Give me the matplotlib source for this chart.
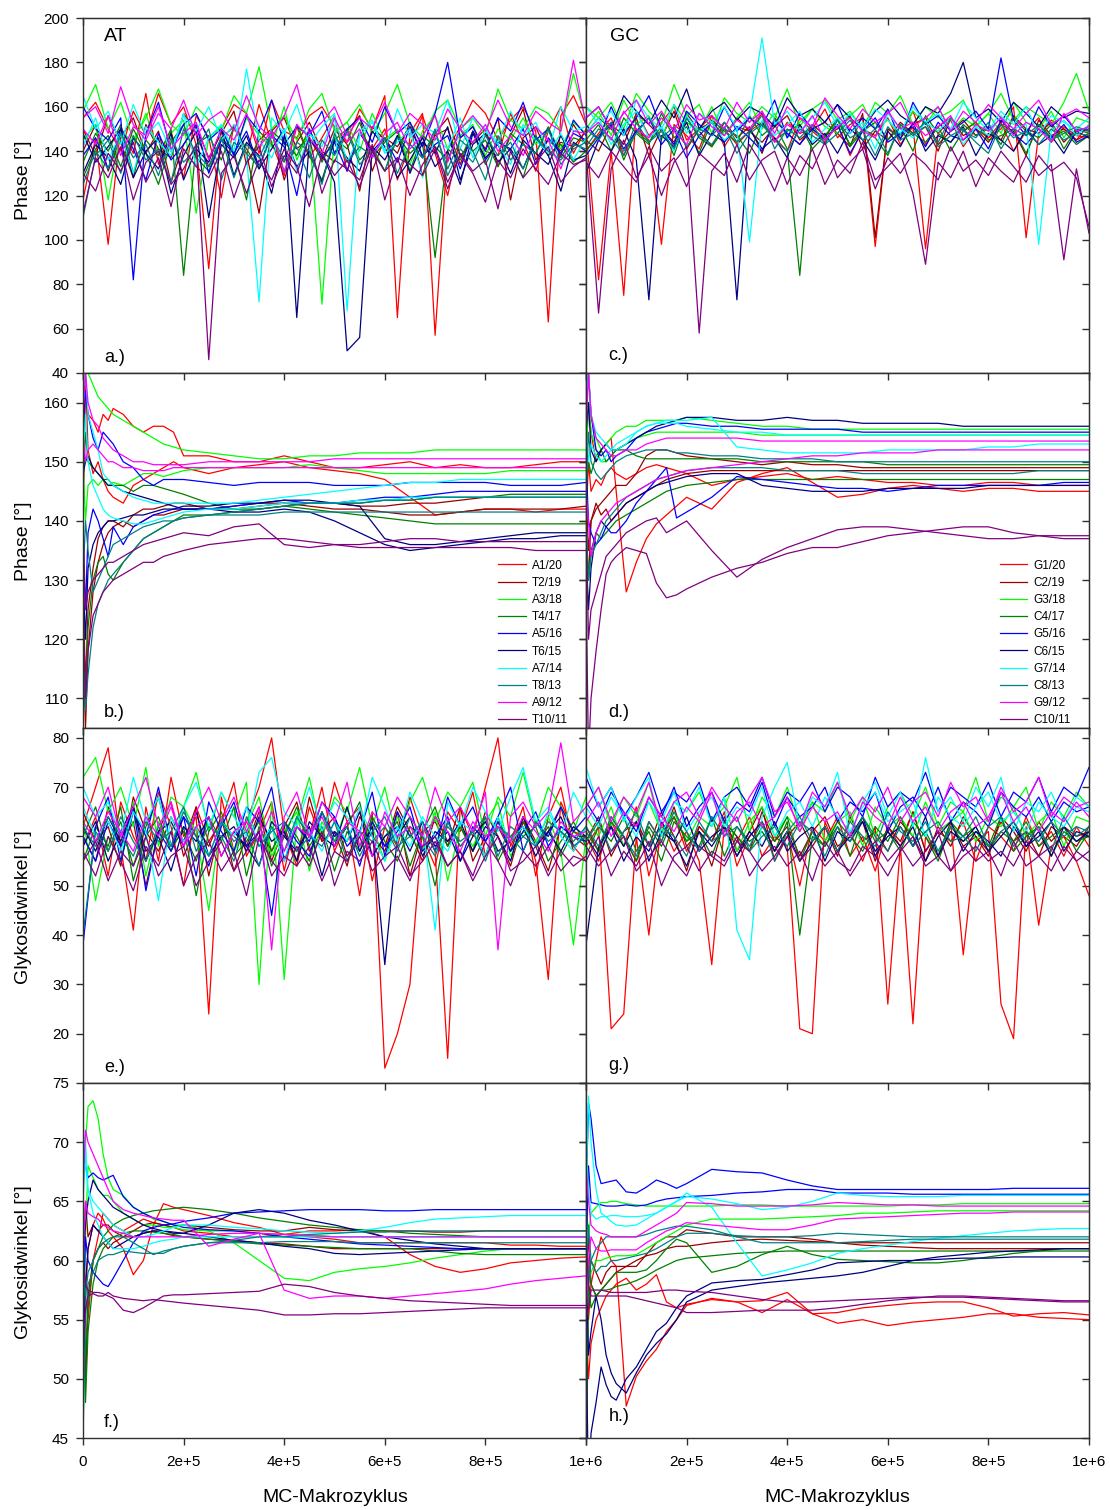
import numpy as np
import matplotlib
matplotlib.use('Agg')
import matplotlib.pyplot as plt

plt.rcParams['font.family'] = ['Liberation Sans', 'DejaVu Sans']

# MC macro cycles: raw samples and running-average samples
x_raw = np.arange(0, 1000001, 25000)
x_avg = [0, 5e3, 1e4, 2e4, 3e4, 4e4, 5e4, 6e4, 8e4, 1e5, 1.2e5, 1.4e5, 1.6e5, 1.8e5, 2e5,
         2.5e5, 3e5, 3.5e5, 4e5, 4.5e5, 5e5, 5.5e5, 6e5, 6.5e5, 7e5, 7.5e5, 8e5, 8.5e5,
         9e5, 9.5e5, 1e6]

colors = ['#ff0000', '#990000', '#00ff00', '#008000', '#0000ff',
          '#000080', '#00ffff', '#008080', '#ff00ff', '#800080']
labels_at = ['A1/20', 'T2/19', 'A3/18', 'T4/17', 'A5/16', 'T6/15', 'A7/14', 'T8/13', 'A9/12', 'T10/11']
labels_gc = ['G1/20', 'C2/19', 'G3/18', 'C4/17', 'G5/16', 'C6/15', 'G7/14', 'C8/13', 'G9/12', 'C10/11']

# a.) phase AT, raw (two strands per base pair, in legend order)
phase_at_raw = [
    [155,162,150,140,158,147,166,152,160,143,87,150,161,157,139,163,149,146,156,160,151,144,159,150,165,65,148,157,57,141,151,163,157,145,154,160,149,63,156,165,152],
    [118,146,98,151,139,166,134,149,128,156,146,119,152,138,161,144,129,151,137,146,156,131,149,141,150,127,143,156,139,120,146,151,140,138,157,144,131,149,160,139,150],
    [150,138,156,144,128,152,141,137,157,148,133,146,151,139,112,149,155,141,146,136,150,143,122,151,145,139,153,137,147,150,134,149,141,155,118,146,151,138,144,142,149],
    [140,152,131,146,155,139,149,126,143,151,137,148,158,134,145,150,127,144,153,140,135,149,156,131,146,142,151,129,148,155,138,144,150,133,147,159,136,145,140,152,143],
    [158,170,150,162,145,155,168,152,147,160,154,149,165,157,178,150,156,145,159,166,149,153,161,148,157,170,152,146,158,163,150,155,147,168,154,150,160,157,149,175,153],
    [145,152,118,150,143,157,139,148,154,112,146,151,138,155,147,142,160,136,149,71,148,153,140,157,145,150,134,149,156,141,147,152,138,150,145,155,143,149,141,153,148],
    [135,148,140,152,130,145,138,150,84,143,147,136,151,141,132,149,144,138,150,135,146,141,153,137,144,149,131,147,142,136,150,140,145,133,148,143,139,151,137,146,144],
    [128,141,147,133,150,139,125,144,152,137,131,146,140,118,149,143,135,152,138,127,145,150,136,142,131,147,139,144,92,141,136,149,134,145,140,128,147,138,143,135,140],
    [160,150,145,155,82,148,162,140,152,157,145,150,138,156,149,163,143,151,147,158,139,150,155,144,160,148,153,142,157,180,146,151,140,155,149,162,145,150,138,154,147],
    [138,146,132,150,141,127,148,136,143,152,130,145,139,149,133,147,142,120,150,137,144,131,148,140,146,135,151,138,143,147,132,149,136,144,141,150,134,146,139,148,145],
    [148,135,142,150,128,140,146,121,138,149,110,143,137,147,132,141,150,65,145,139,126,50,56,142,136,147,130,144,139,151,127,143,148,135,141,132,146,138,122,144,140],
    [130,143,137,125,146,139,132,148,127,141,135,150,129,144,138,121,147,133,140,126,145,137,131,149,142,128,136,146,133,140,125,148,137,143,130,145,139,134,147,136,138],
    [165,150,158,143,161,147,153,140,156,149,160,145,152,138,72,155,148,161,143,151,157,68,149,154,140,159,146,152,148,163,141,155,150,144,158,147,153,140,160,149,151],
    [142,155,136,148,130,151,144,138,157,133,146,152,140,177,145,137,150,131,148,142,156,135,147,153,139,144,150,128,146,141,155,137,149,143,134,152,145,139,148,136,146],
    [110,138,145,130,147,136,141,126,150,139,133,146,128,143,137,149,131,144,140,125,148,135,142,138,146,130,143,137,149,132,145,140,127,147,136,143,139,150,134,141,144],
    [125,140,132,148,137,143,129,146,135,141,150,127,144,139,133,147,136,142,128,145,138,149,134,140,131,146,143,137,150,129,141,135,147,138,144,132,146,140,136,143,141],
    [155,160,148,169,152,145,157,150,163,147,154,158,149,165,151,146,156,170,148,153,160,147,155,150,162,148,157,152,145,159,150,156,149,163,151,147,158,153,149,181,152],
    [150,143,156,138,151,147,160,141,148,153,136,150,145,157,142,149,130,152,146,139,155,144,150,137,148,153,141,147,156,135,150,144,152,140,147,138,151,145,132,149,148],
    [112,137,128,142,118,135,140,125,132,143,46,130,138,121,136,127,141,133,115,139,129,136,124,140,131,137,120,134,142,126,138,130,117,136,128,141,132,125,139,134,136],
    [130,122,139,131,144,126,137,115,141,133,128,140,119,135,142,124,138,130,146,121,136,132,127,143,118,137,134,129,141,123,139,131,136,114,140,128,135,142,126,133,137],
]

# c.) phase GC, raw
phase_gc_raw = [
    [150,82,140,75,158,147,153,160,145,150,156,142,151,149,157,144,153,148,150,159,146,152,155,97,150,147,158,143,151,155,149,153,146,150,160,101,148,154,150,145,152],
    [140,148,155,138,150,145,98,152,147,141,156,150,143,149,153,146,140,155,149,144,152,138,150,147,155,143,151,96,148,154,142,150,146,153,140,149,155,144,151,147,146],
    [148,155,150,143,157,152,146,158,141,150,153,147,155,149,144,151,156,145,150,153,148,142,157,101,150,146,152,155,143,149,154,147,151,145,156,150,148,153,144,150,149],
    [145,140,152,147,155,138,150,144,157,149,142,153,146,151,139,155,148,143,152,147,150,156,141,149,145,153,148,151,140,155,147,150,144,152,149,138,154,147,150,145,148],
    [160,155,162,150,166,158,152,170,156,161,148,164,157,153,160,155,168,151,159,163,154,158,150,162,157,165,152,160,155,158,163,151,157,166,154,160,156,152,162,175,158],
    [150,158,147,163,152,156,145,161,153,149,160,147,155,162,150,157,146,153,159,151,148,156,161,150,154,147,158,152,160,149,155,151,157,148,162,153,150,158,146,155,153],
    [145,152,140,155,148,143,157,146,151,139,154,149,144,156,147,152,141,84,150,146,155,142,149,153,145,151,140,156,148,144,152,147,150,143,155,149,146,152,141,150,148],
    [140,147,153,136,149,144,151,138,155,146,142,150,147,139,153,145,149,152,141,147,154,143,150,146,138,152,148,144,151,140,149,153,145,147,150,139,152,146,149,143,147],
    [152,145,160,148,155,165,150,143,158,152,147,160,149,155,151,163,146,157,150,153,161,148,155,150,159,145,162,152,156,149,153,158,150,182,154,147,160,151,156,149,150],
    [138,146,152,141,149,155,143,150,137,147,153,144,151,146,140,154,148,143,150,145,152,139,149,155,144,148,151,142,153,147,145,150,141,154,148,143,150,146,152,144,147],
    [155,160,150,165,158,152,163,155,168,150,158,162,154,160,157,151,164,156,159,153,161,155,150,158,163,156,152,160,157,166,180,155,159,153,162,157,151,160,155,158,157],
    [130,145,140,150,136,73,147,142,153,138,148,144,73,150,141,146,137,152,143,148,139,150,145,136,149,142,153,140,147,144,151,138,148,145,140,150,143,147,139,149,146],
    [160,152,158,147,163,155,150,161,148,157,153,160,150,156,191,152,158,149,155,162,151,157,150,159,154,148,160,153,157,150,162,155,149,158,152,160,147,156,153,150,155],
    [148,155,143,152,158,146,151,140,156,149,153,145,150,99,154,147,152,158,144,150,155,148,153,141,157,150,146,153,149,155,143,151,147,156,150,152,98,149,154,147,152],
    [150,145,153,140,148,155,146,151,142,150,147,153,144,149,156,141,150,146,152,143,148,154,145,150,139,152,147,151,144,155,149,146,153,141,150,147,152,145,148,151,149],
    [142,150,146,138,153,144,149,141,155,147,143,151,139,148,152,145,140,150,147,143,154,146,149,138,151,145,148,153,142,147,150,144,139,152,146,149,143,150,145,148,147],
    [155,160,150,157,163,152,158,149,161,154,156,150,162,153,158,148,160,155,151,164,156,150,159,153,157,162,151,155,160,149,158,153,161,155,150,157,163,152,156,159,155],
    [148,153,145,158,150,146,155,149,143,157,151,147,154,150,158,144,152,148,156,145,151,155,149,146,158,150,153,147,151,156,145,152,149,155,147,153,150,144,157,149,151],
    [140,67,132,145,128,138,120,135,142,58,131,139,126,143,134,122,137,129,141,125,136,130,144,127,133,139,121,89,135,128,140,124,137,131,126,138,129,134,91,132,103],
    [135,128,140,133,126,142,131,137,124,139,134,129,143,127,136,140,125,138,132,144,128,135,141,123,137,130,139,134,127,142,131,136,129,140,133,126,138,131,135,128,106],
]

# e.) glycosidic angle AT, raw
glyco_at_raw = [
    [62,70,78,58,41,66,55,72,60,64,24,68,57,63,70,80,61,54,66,59,71,63,48,65,13,20,30,62,57,15,66,60,70,80,58,64,55,31,67,61,60],
    [58,64,52,67,60,55,69,62,50,66,59,63,71,56,61,67,53,64,60,70,57,63,66,51,62,58,68,60,54,65,61,69,56,63,59,66,52,64,70,58,55],
    [60,55,66,58,63,50,61,67,56,62,58,64,53,60,66,57,62,55,68,59,61,54,64,60,57,65,52,61,63,58,66,55,60,62,57,64,59,53,62,60,58],
    [65,59,62,54,68,61,57,64,59,66,52,63,60,58,65,55,62,67,57,61,64,56,60,63,58,66,61,55,64,59,62,57,65,60,54,63,58,61,66,57,62],
    [72,76,65,70,62,74,58,68,66,73,61,69,64,71,30,67,31,63,72,60,68,65,74,62,70,59,67,72,63,69,66,71,60,68,64,73,62,70,66,61,68],
    [64,47,60,55,67,52,63,58,66,61,45,64,57,62,68,56,61,65,53,63,59,66,58,62,55,64,60,57,65,51,62,58,63,67,56,61,59,64,57,38,60],
    [60,66,57,63,54,62,68,58,61,55,64,59,66,52,62,57,63,60,55,65,58,62,67,56,60,63,54,61,66,58,62,57,64,55,60,63,58,62,56,61,59],
    [55,62,58,66,51,60,64,57,62,48,61,65,56,59,63,54,60,66,58,62,53,61,57,64,59,55,62,60,50,63,58,61,56,64,57,60,62,55,59,63,58],
    [38,62,68,55,65,60,70,58,64,52,67,61,57,66,63,70,55,62,59,67,64,58,61,69,56,65,60,63,57,68,62,66,59,64,70,57,63,60,66,61,64],
    [60,55,63,58,66,49,61,57,64,60,54,62,67,58,61,44,63,59,56,65,60,62,54,63,58,61,66,57,60,64,55,62,59,63,57,61,65,58,62,60,59],
    [62,57,64,59,66,55,61,63,58,65,56,60,62,57,64,59,61,55,63,60,58,66,57,62,34,60,64,56,61,59,63,57,62,60,55,64,58,61,57,62,60],
    [58,63,55,61,66,57,60,53,62,59,64,56,61,58,54,63,60,57,62,52,61,59,65,56,60,62,57,63,58,61,55,60,63,57,59,62,56,61,64,58,60],
    [70,64,67,60,72,63,68,58,66,71,62,69,64,60,73,76,65,62,70,61,67,64,60,72,66,59,69,63,41,67,62,70,65,61,68,74,63,66,60,69,64],
    [66,60,63,57,65,61,47,64,59,62,56,63,60,66,58,62,55,64,61,57,63,59,66,60,55,62,58,64,60,57,63,61,56,64,59,62,58,65,60,57,62],
    [40,61,57,64,59,55,62,58,65,60,56,63,59,61,54,62,57,64,60,58,63,55,61,59,62,57,64,60,56,63,58,61,55,62,60,57,63,59,61,58,60],
    [62,58,64,60,56,63,59,61,66,57,62,60,55,64,58,61,63,57,60,65,59,62,56,61,64,58,60,63,57,62,59,61,64,56,62,60,58,63,61,59,62],
    [68,64,70,60,66,72,62,67,58,65,70,63,68,61,66,37,64,69,60,67,63,71,58,65,62,68,64,60,70,63,66,61,69,37,64,67,62,65,79,63,66],
    [63,59,65,61,57,64,60,66,58,62,64,56,61,63,59,65,57,62,60,64,58,63,61,56,65,60,62,58,64,61,57,63,60,62,59,64,61,57,63,60,61],
    [57,52,60,55,49,58,54,61,50,56,59,53,57,48,60,55,52,58,54,61,50,57,55,59,53,56,51,58,60,54,57,52,59,55,50,57,54,58,53,56,55],
    [55,59,51,57,54,60,52,56,58,50,55,59,53,57,61,52,56,54,58,51,57,55,60,53,56,58,52,55,59,54,57,51,56,60,53,55,58,52,57,54,56],
]

# g.) glycosidic angle GC, raw
glyco_gc_raw = [
    [58,62,21,24,60,40,63,57,61,55,34,62,59,64,56,60,58,21,20,63,57,61,55,62,26,58,22,60,56,63,36,59,61,26,19,62,42,58,60,55,48],
    [60,55,63,58,66,52,61,64,57,62,59,65,54,60,63,57,61,50,62,59,64,56,60,53,62,58,65,57,61,59,63,55,62,60,57,64,58,61,56,62,58],
    [62,57,64,60,55,63,59,66,58,61,54,63,60,57,65,59,62,56,61,64,58,60,63,55,62,59,65,57,61,63,58,60,56,64,61,57,63,59,62,60,61],
    [59,64,56,61,63,58,65,60,53,62,59,64,57,61,66,55,60,63,58,62,56,64,59,61,57,63,60,55,62,58,64,60,57,63,59,61,56,62,60,58,62],
    [66,70,62,68,64,71,60,67,65,69,63,66,72,61,68,64,70,62,67,65,71,63,68,60,66,69,64,70,62,67,65,72,63,68,66,70,61,67,64,69,66],
    [64,60,66,58,63,67,61,65,59,64,62,68,57,63,66,60,64,61,67,59,63,65,58,66,62,64,60,67,61,63,65,59,64,62,66,60,63,65,58,64,63],
    [56,62,59,64,57,61,55,63,60,58,64,56,62,59,61,57,63,40,60,58,62,56,64,59,61,57,63,60,55,62,59,61,58,64,57,60,62,56,61,59,60],
    [61,57,63,60,55,62,58,64,59,61,56,63,60,57,62,59,64,55,61,58,63,60,57,62,59,64,58,61,56,63,60,62,57,61,59,63,58,60,62,57,61],
    [72,66,70,64,68,73,65,69,67,71,63,68,70,66,72,64,69,67,71,65,70,68,64,72,66,69,67,73,65,70,68,66,71,64,69,67,72,65,70,68,74],
    [67,63,69,65,61,68,64,70,62,66,69,63,67,65,71,62,68,64,66,70,63,67,65,69,61,66,68,64,70,63,67,65,62,69,66,64,68,63,67,65,66],
    [38,58,62,55,60,57,63,59,54,61,58,62,56,60,63,57,61,55,59,62,57,60,64,56,61,58,62,55,60,63,57,61,59,56,62,58,60,63,57,61,60],
    [60,56,62,58,63,55,61,59,64,57,60,62,56,61,58,63,57,60,62,55,61,59,63,57,60,62,58,64,56,61,59,62,57,60,63,58,61,56,62,59,61],
    [74,66,70,63,68,72,60,67,65,70,62,68,41,35,64,70,75,62,68,66,73,60,67,71,64,69,62,76,65,68,63,70,66,72,61,67,65,69,63,68,66],
    [66,62,68,64,60,67,63,69,61,65,68,62,66,64,70,60,65,67,62,68,64,61,66,69,63,65,67,60,68,64,62,66,69,63,65,61,67,64,62,66,65],
    [62,58,64,60,56,63,59,65,61,57,64,60,62,58,63,55,61,64,59,62,57,63,60,58,65,61,59,63,57,62,60,64,58,61,63,59,62,57,64,60,62],
    [59,63,57,61,65,58,62,60,56,63,59,61,64,57,60,62,58,63,61,56,62,59,64,60,57,62,58,61,63,59,60,57,62,64,58,61,59,63,60,62,61],
    [66,70,63,68,65,71,62,67,69,64,70,66,63,68,72,65,67,62,69,66,71,64,68,65,70,63,67,69,64,71,66,68,63,70,65,67,72,64,68,66,67],
    [63,67,60,65,62,68,64,61,66,63,69,60,65,67,62,64,68,61,66,63,65,60,67,64,62,68,63,66,61,65,67,62,64,69,63,66,61,65,63,67,64],
    [55,60,52,57,54,59,50,56,58,53,57,55,60,52,56,58,54,57,51,59,55,53,58,56,52,57,60,54,56,53,58,55,57,52,59,54,56,58,53,57,55],
    [58,54,57,60,53,56,59,55,52,58,56,54,59,57,53,56,60,55,58,54,57,52,56,59,55,58,54,57,61,53,56,58,55,57,54,59,56,53,58,55,57],
]

# b.) phase AT, running average
phase_at_avg = [
    [150,162,158,157,155,158,157,159,158,156,155,156,156,155,151,151,150,150,151,150,149,149,149.5,150,149,149.5,149,149,149.5,150,150],
    [140,165,152,148,150,147,145,144,143,146,147,148,149,150,149,148,149,149.5,150,149,148.5,148,147,144,141,141.5,142,142,141.5,142,142],
    [120,105,118,128,133,136,138,139,140,139,140,141,141,141.5,142,142,142.5,143,143,142.5,142,142,141.5,141,141,141.5,142,142,142,142,142.5],
    [130,112,125,132,137,139,140,140,139,141,142,142,142.5,143,143,142,142,142.5,143,143,143,142.5,142.5,143,143,143.5,144,144,144,144,144],
    [160,175,165,163,161,160,159,158,157,156,155,154,153,152.5,152,151.5,151,150.5,150.5,151,151,151.5,151.5,151.5,152,152,152,152,152,152,152],
    [150,140,146,147,146,147,146,146.5,146,147,148,148,147.5,148,148.5,149,149,149,149,149.5,149,148.5,148,148,148,148,148,148.5,148.5,148.5,148.5],
    [125,110,122,130,133,134,131,130,133,135,137,138,139,140,141,141,141.5,142,142.5,143,143,143,143.5,143.5,144,144,144,144.5,144.5,144.5,144.5],
    [145,155,150,149,148,147,147,146,146,145,146,146,145.5,145,144.5,143,142,142,142.5,142,141.5,141,140.5,140,139.5,139.5,139.5,139.5,139.5,139.5,139.5],
    [155,162,158,154,152,155,154,153,150,149,147,146,147,147,147,146.5,146,146.5,146.5,146.5,146,146,146,146.5,146.5,146.5,146.5,146,146,146,146.5],
    [135,125,138,142,140,137,134,139,136,139,140,141,141.5,142,142,142,142.5,143,143.5,143,143,143.5,144,144,144.5,145,145,145,145,145,145],
    [148,150,151,149,148,147,146,146,145,144.5,144,143.5,143,142.5,142,142,141.5,141.5,142,141.5,140,138,136,135,135.5,136,136.5,137,137,137.5,137.5],
    [130,120,132,136,138,139,140,140,140.5,141,141,141.5,142,142,142.5,142.5,143,143,143.5,143.5,143,142.5,137,136,136,136.5,137,137.5,138,138,138],
    [160,165,158,155,152,148,147,146,145,144,143.5,143,143,143,143,143,143,143.5,144,144.5,145,145.5,146,146.5,146.5,147,147,147,147,147,147],
    [150,158,150,146,144,142,141,140.5,140,139.5,139.5,140,140.5,141,141.5,142,142,142.5,143,143,143,143.5,143.5,144,144,144,144,144,144,144,144],
    [120,108,114,122,126,128,130,131,133,135,137,138,139,140,140.5,141,141.5,142,142.5,143,143,143,143.5,143.5,144,144,144,144,144,144,144],
    [130,140,135,128,130,132,134,136,137,138,139,139.5,140,140,140.5,141,141,141,141.5,141.5,141.5,141.5,141.5,141.5,141.5,141.5,141.5,141.5,141.5,141.5,141.5],
    [158,165,160,157,156,154,153,152,151,150,150,149.5,149.5,149.5,149.5,150,150,150,150,150,150.5,150.5,150.5,150.5,150.5,150.5,150.5,150.5,150.5,150.5,150.5],
    [155,150,152,153,152,151,150,150,149,149,148.5,148.5,148.5,149,149,149,149,149,149,149,149,149,149,149,149,149,149,149,149,149,149],
    [125,110,118,124,126,128,129,130,131,132,133,133,134,134.5,135,136,136.5,137,137,136.5,136,135.5,135.5,135.5,135.5,135.5,135.5,135.5,135,135,135],
    [140,125,128,130,131,132,133,133,134,135,136,136.5,137,137.5,138,137.5,139,139.5,136,135.5,136,136,136.5,137,137,136.5,136.5,136.5,136.5,136.5,136.5],
]

# d.) phase GC, running average
phase_gc_avg = [
    [150,160,155,150,152,153,154,145,128,133,137,139.5,141,142.5,144,142,146.5,148,149,146.5,144,144.5,145.5,146,145.5,145,145.5,145.5,145,145,145],
    [140,150,145,147,146,148,149,148,147,148,149,149.5,149,148.5,148,146,147,147.5,148,147,147.5,147,146.5,146.5,146,146,146.5,146.5,146,146,146],
    [145,135,140,142,143,144,145,146,146,148,151,152,152,151.5,151,150.5,150,149.5,150,149.5,149.5,149,149,149,149,149,149,149,149,149,149],
    [138,130,140,143,141,142,140,141,143,144,145,146,147,147.5,148,148.5,148.5,148.5,148.5,148.5,148.5,148.5,148.5,148.5,148.5,148.5,148.5,148.5,148.5,148.5,148.5],
    [155,165,158,154,152,153,154,155,156,156,157,157,157,157,157.5,157,156.5,156,156,155.5,155.5,155.5,155.5,155.5,155.5,155.5,155.5,155.5,155.5,155.5,155.5],
    [150,160,155,152,150,150,151,152,153,154,154.5,155,155,155,155,155,155,154.5,154.5,154.5,154.5,154.5,154.5,154.5,154.5,154.5,154.5,154.5,154.5,154.5,154.5],
    [145,150,148,151,152,150,151,152,152,151,150.5,150.5,150.5,150.5,150.5,150.5,150.5,150,150,150,150,150,149.5,149.5,149.5,149.5,149.5,149.5,149.5,149.5,149.5],
    [140,130,135,138,137,138,139,140,141,142,143,144,145,145.5,146,146.5,147,147,147,147,147,147,147,147,147,147,147,147,147,147,147],
    [150,140,138,136,137,139,138,138,140,143,145,147,149,140.5,141.5,144,147.5,147,146.5,146,145.5,145.5,145,145.5,146,146,146,146,146,146.5,146.5],
    [160,165,158,152,151,152,150,151,152,154,155,155.5,156,156.5,156.5,156,156,155.5,155.5,155.5,155.5,155,155,155,155,155,155,155,155,155,155],
    [155,160,152,150,152,153,152,152,153,154,155,156,156.5,157,157.5,157.5,157,157,157.5,157,157,156.5,156.5,156.5,156.5,156,156,156,156,156,156],
    [135,125,132,138,140,139,140,141,143,144,145,146,146.5,147,147.5,148,148,146,145.5,145,145,145,145.5,145.5,145.5,145.5,146,146,146,146,146],
    [160,165,158,155,154,153,152,152,153,155,156,156.5,157,157,157,157.5,152.5,152,151.5,151.5,151.5,151.5,152,152,152,152,152.5,152.5,153,153,153],
    [155,150,153,151,150,151,152,153,154,155,156,156.5,156.5,156.5,156,155.5,155,155,154.5,154.5,154.5,154.5,154.5,154.5,154.5,154.5,154.5,154.5,154.5,154.5,154.5],
    [145,155,150,148,147,148,149,150,151,151.5,152,152,152,151.5,151.5,151,151,150.5,150.5,150.5,150,150,150,150,150,150,150,150,150,150,150],
    [140,130,134,136,138,140,141,142,144,145,146,147,147.5,148,148.5,149,149,149,148.5,148.5,148.5,148,148,148,148,148,148,148,148.5,148.5,148.5],
    [155,165,158,154,153,152,151,151,152,152,153,153.5,154,154,154,154,154,153.5,153.5,153.5,153.5,153.5,153.5,153.5,153.5,153.5,153.5,153.5,153.5,153.5,153.5],
    [145,140,134,138,140,141,142,143,144,145,146,147,147.5,148,148.5,149,149.5,150,150.5,151,151,151.5,151.5,151.5,152,152,152,152,152,152,152],
    [130,100,110,118,125,131,133,134,135.5,135,134.5,129.5,127,127.5,128.5,130.5,132,133,134.5,135.5,135.5,136.5,137.5,138,138.5,139,139,138,137.5,137,137],
    [140,120,125,128,131,134,135,136,138,139,140,140.5,138,139,140,135,130.5,133.5,135.5,137,138.5,139,139,138.5,138,137.5,137,137,137.5,137.5,137.5],
]

# f.) glycosidic angle AT, running average
glyco_at_avg = [
    [62,57,61,63,64,63.5,62.5,62,61,58.8,60,63,64.8,64.5,64.3,63.8,63.2,62.8,62.2,62.5,62.5,62.6,62,60.5,59.5,59,59.3,59.8,60,60.2,60.3],
    [58,50,55,60,62,64,63.5,63,62.5,63,63.5,63.2,63,62.8,62.5,62.3,62,62,62.2,62,61.8,61.5,61.5,61.5,61.5,61.5,61.5,61.3,61.3,61.2,61.2],
    [60,65,62,63,62.5,63,63,62.5,62,62.5,63,63.2,63,62.8,63,62.8,62.6,62.5,62.5,62.8,62.6,62.5,62.5,62.5,62.4,62.4,62.5,62.5,62.5,62.5,62.5],
    [55,50,57,60,61,61.5,61,61.5,62,62,62.3,62.5,62.3,62.1,62,61.8,61.7,61.5,61.4,61.2,61,61,61,61,61,61,61,61,61,61,61],
    [65,70,73,73.5,72,69,67,66,65.5,64.5,64,63.5,63.3,63,63,62.5,61.5,60,58.5,58.3,59,59.3,59.5,59.8,60.2,60.5,60.8,61,61,61,61],
    [50,62,68,67,66,65.5,65.5,65,64,63.5,63,63,62.8,62.8,62.6,62.5,62.5,62.3,62.2,62.2,62,62,62,62,62,62,62,62,62,62,62],
    [58,52,56,60,61,62,62.5,63,63.5,63.8,64,64.2,64.3,64.4,64.5,64.3,64,63.6,63.3,63,62.8,62.6,62.5,62.3,62.2,62.1,62,62,62,62,62],
    [60,48,54,58,60,61,61.5,62,62.3,62.5,62.5,62.4,62.3,62.2,62,61.8,61.6,61.4,61.3,61.2,61.1,61,61,61,60.8,60.6,60.5,60.5,60.5,60.5,60.5],
    [55,62,60,59,58.5,58,57.8,58.5,60,61.5,62.5,62.8,63,63.1,63.3,63.6,64,64.1,64.2,64.3,64.3,64.3,64.2,64.2,64.3,64.3,64.3,64.3,64.3,64.3,64.3],
    [70,68,67,67.4,67,66.8,67,67.2,65.4,64.5,64,63.6,63.3,63,62.8,62.6,62.5,62.3,62,61.8,61.6,61.4,61.3,61.2,61.1,61,61,61,61,61,61],
    [60,63,65,66.8,66,65.5,65,64.5,64,63.5,63,62.7,62.5,62.3,62.3,63,64,64.3,64,63.4,63,62.5,62,61.7,61.4,61.2,61,61,61,61,61],
    [50,58,61,63,62.5,62,61.5,61,61.5,62,62.3,62.5,62.5,62.4,62.3,62,61.7,61.5,61.2,61,60.6,60.5,60.6,60.7,60.8,60.9,61,61,61,61,61],
    [72,68,66,65,64.5,64,63.5,63,62.5,62,62,62.2,62.5,62.8,63,63,62.8,62.7,62.5,62.4,62.3,62.5,62.8,63.2,63.5,63.6,63.7,63.8,63.8,63.8,63.8],
    [65,70,66,64,63,62,61.5,61,61,61,61.2,61.5,61.7,61.8,62,62,62,62,62,62,62,62,62,62,62,62,62,62,62,62,62],
    [45,55,58,59,60,60.3,60.5,60.5,60.8,60.7,60.6,60.6,60.6,61,61.2,61.5,61.5,61.5,61.6,61.6,61.6,61.5,61.5,61.5,61.5,61.5,61.5,61.5,61.5,61.5,61.5],
    [60,57,59,60,61,61.5,61.8,62,62,61.5,61,60.5,60.8,61,61.2,61.5,61.7,62,62,62.2,62.3,62.4,62.4,62.5,62.5,62.5,62.5,62.5,62.5,62.5,62.5],
    [66,71,70,69,68,67,66,65,64.3,64,63.8,63.6,63.5,63.4,63.4,61.2,61.8,62.3,57.5,56.8,57,57,56.8,57,57.2,57.4,57.6,58,58.3,58.5,58.7],
    [60,65,64,63.7,63.5,63,62.8,62.5,62.3,62,62,62,62,62,62,62.2,62.3,62.3,62.2,62.1,62,62,62,62,62,62,62,62,62,62,62],
    [60,58,57.5,57.3,57.3,57.2,57,56.8,55.8,55.6,56,56.5,57,57.1,57.1,57.2,57.3,57.4,58,57.8,57.3,57,56.8,56.6,56.5,56.4,56.3,56.2,56.2,56.2,56.2],
    [52,56,57,57.2,57,57,57.3,57,56.8,56.7,56.6,56.7,56.6,56.5,56.4,56.2,56,55.8,55.4,55.4,55.5,55.5,55.6,55.7,55.8,55.9,56,56,56,56,56],
]

# h.) glycosidic angle GC, running average
glyco_gc_avg = [
    [60,55,58,60,62,61,60,59.5,47.7,50.2,51.5,52.5,54,55,56.2,56.8,56.5,55.6,56.7,55.5,54.7,55,54.5,54.8,55,55.2,55.5,55.5,55.2,55.1,55],
    [55,50,53,55,56,57,57.5,58,58.5,57.5,58,58.8,56.5,56,56.3,56.7,56.5,56.6,57.3,55.5,55.6,56,56.2,56.4,56.5,56.5,56,55.3,55.5,55.6,55.4],
    [62,58,60,59,58,59,59.5,59.5,59.5,59.5,60.5,61.5,62,62,62.6,62.3,62,62,62,61.8,61.5,61.3,61.2,61.1,61,61,61,61,61,61,61],
    [58,62,58,57,57.5,58,58.5,59,59.5,60,60.4,60.6,61,61.2,61.2,61.5,61.7,61.8,61.7,61.6,61.5,61.5,61.5,61.5,61.5,61.5,61.5,61.5,61.5,61.5,61.5],
    [65,62,64,64.5,64.9,64.9,65,65,64.8,64.7,64.6,64.6,64.6,64.6,64.6,64.6,64.7,64.7,64.6,64.6,64.6,64.6,64.6,64.7,64.7,64.8,64.8,64.8,64.8,64.8,64.8],
    [55,58,59,60,60,60.2,60.3,60.4,60.4,60.5,61,61.5,62,62.5,63,63.5,63.5,63.5,63.6,63.7,63.8,64,64,64.1,64.2,64.2,64.2,64.2,64.2,64.2,64.2],
    [56,60,58,57,57.5,58,58.5,59,59,59,59.2,60,61,61.8,61.5,59,59.5,60.5,61.2,60.5,60.1,60,59.9,59.8,59.8,60,60.3,60.6,60.8,61,61],
    [42,58,56,57,57.5,57.5,57.6,57.8,58,58.3,58.7,59.2,59.6,60,60.2,60.4,60.6,60.7,60.8,60.8,60.8,60.8,60.8,60.8,60.8,60.8,60.8,60.8,60.8,60.8,60.8],
    [65,73.3,72,68,66.5,66.6,66.7,66.8,65.8,65.7,66.2,66.8,66.5,66.1,66.5,67.7,67.5,67.4,66.8,66.3,66,66,66,66,66,66,66,66.1,66.1,66.1,66.1],
    [60,68,64.9,64.8,64.7,64.6,64.6,64.6,64.7,64.6,64.7,65,65.2,65.3,65.4,65.5,65.7,65.8,66,66,65.7,65.7,65.7,65.6,65.6,65.6,65.6,65.6,65.6,65.6,65.6],
    [55,40,45.4,48,51,49.5,48.5,48.2,50,51,52.5,54,54.7,56,57,58.1,58.3,58.4,58.8,59.2,59.8,59.9,60,60,60.1,60.2,60.2,60.3,60.3,60.3,60.3],
    [60,52,54,57,55,52,50.5,49.6,48.8,50.5,52,53,53.8,55,56.5,57.5,57.8,58.1,58.3,58.5,58.7,59,59.5,60,60.3,60.5,60.7,60.8,60.9,61,61],
    [65,73.9,70,66,64,63.7,63.3,63,62.9,63,63.5,64,64.5,65,65.7,64.5,61.5,58.7,59.2,59.8,60.6,61,61.3,61.6,61.9,62.1,62.3,62.5,62.6,62.7,62.7],
    [70,66,64,63.5,63.7,63.7,63.8,63.8,63.7,63.7,63.8,64,64.5,65,65.4,65.2,64.8,64.3,64.5,65,65.7,65.5,65.4,65.4,65.4,65.5,65.5,65.5,65.5,65.5,65.5],
    [58,63,60,59,59.5,59.5,60,60,60.2,60.4,60.6,61,61.5,62,62.3,62.3,62.1,62,62,62.1,62.3,62.2,62.1,62,62,62,62,62,62,62,62],
    [62,58,60,61,61.5,62,62,62,62,62,62.2,62.5,62.7,62.9,62.9,62.6,62,61.5,61.5,61.5,61.5,61.6,61.7,61.8,61.8,61.8,61.8,61.8,61.8,61.8,61.8],
    [68,65,63,62.5,62.3,62.2,62,62,62,62,62.5,63,63.5,64,64.9,64.8,64.6,64.6,64.6,64.7,64.9,64.8,64.7,64.7,64.6,64.6,64.6,64.6,64.6,64.6,64.6],
    [55,60,62,61,60.8,60.8,60.9,60.9,60.9,60.9,61.5,62,62.5,62.8,63.2,63,62.8,62.6,62.6,63,63.5,63.6,63.7,63.8,63.9,64,64,64.1,64.1,64.1,64.1],
    [62,58,57,57,57,57,57,57,57,56.8,56.6,56.4,56.2,56,55.6,55.6,55.7,55.8,55.8,55.8,56,56.3,56.6,56.8,57,57,56.9,56.8,56.7,56.6,56.6],
    [55,56,57.5,57.5,57.5,57.4,57.3,57.3,57.3,57.3,57.3,57.4,57.5,57.5,57.4,57.3,57,56.7,56.5,56.5,56.6,56.7,56.8,56.9,56.9,56.9,56.8,56.7,56.6,56.5,56.5],
]

W, H = 1110, 1510
fig = plt.figure(figsize=(W / 100, H / 100), dpi=100)

col_left = [83, 586]
row_top = [18, 373, 728, 1083]
pw, ph = 503, 355

ylims = [(40, 200), (105, 165), (10, 82), (45, 75)]
yticks = [np.arange(40, 201, 20), np.arange(110, 161, 10), np.arange(20, 81, 10), np.arange(45, 76, 5)]
xticks = [0, 2e5, 4e5, 6e5, 8e5, 1e6]

panels = [
    [(phase_at_raw, x_raw, 'a.)'), (phase_gc_raw, x_raw, 'c.)')],
    [(phase_at_avg, x_avg, 'b.)'), (phase_gc_avg, x_avg, 'd.)')],
    [(glyco_at_raw, x_raw, 'e.)'), (glyco_gc_raw, x_raw, 'g.)')],
    [(glyco_at_avg, x_avg, 'f.)'), (glyco_gc_avg, x_avg, 'h.)')],
]
label_y = [(0.045, 0.05), (0.045, 0.045), (0.045, 0.048), (0.045, 0.06)]
spine_col = '#303030'

for r in range(4):
    for c in range(2):
        data, xs, tag = panels[r][c]
        ax = fig.add_axes([col_left[c] / W, 1 - (row_top[r] + ph) / H, pw / W, ph / H])
        labels = labels_at if c == 0 else labels_gc
        for k, ys in enumerate(data):
            n = min(len(xs), len(ys))
            ax.plot(xs[:n], ys[:n], color=colors[k // 2], lw=0.9,
                    label=labels[k // 2] if k % 2 == 0 else None)
        ax.set_xlim(0, 1e6)
        ax.set_ylim(*ylims[r])
        ax.set_yticks(yticks[r])
        ax.set_xticks(xticks)
        for s in ax.spines.values():
            s.set_color(spine_col)
            s.set_linewidth(1.0)
        ax.tick_params(direction='out', length=5, width=1, color=spine_col,
                       labelsize=11, pad=5)
        if c == 0:
            ax.set_yticklabels([str(v) for v in yticks[r]])
        else:
            ax.set_yticklabels([])
        if r == 3:
            xl = ['0', '2e+5', '4e+5', '6e+5', '8e+5', '1e+6']
            if c == 1:
                xl[0] = ''
            ax.set_xticklabels(xl)
            ax.tick_params(axis='x', pad=7)
        else:
            ax.set_xticklabels([])
        # inward ticks on top and right
        sx = ax.secondary_xaxis('top')
        sx.set_xticks(xticks)
        sx.set_xticklabels([])
        sx.tick_params(direction='in', length=5, width=1, color=spine_col)
        sy = ax.secondary_yaxis('right')
        sy.set_yticks(yticks[r])
        sy.set_yticklabels([])
        sy.tick_params(direction='in', length=5, width=1, color=spine_col)

        ax.text(0.042 if c == 0 else 0.045, label_y[r][c], tag, transform=ax.transAxes,
                fontsize=13, ha='left', va='center')
        if r == 0:
            ax.text(0.042 if c == 0 else 0.048, 0.949, 'AT' if c == 0 else 'GC',
                    transform=ax.transAxes, fontsize=14, ha='left', va='center')
        if r == 1:
            ax.legend(loc='lower right', bbox_to_anchor=(0.975, -0.012), frameon=False,
                      fontsize=8.5, handlelength=2.3, labelspacing=0.44,
                      borderaxespad=0.1, handletextpad=0.5)

# axis titles
ylab = ['Phase [°]', 'Phase [°]', 'Glykosidwinkel [°]', 'Glykosidwinkel [°]']
ycent = [180, 541, 907, 1262]
for t, yc in zip(ylab, ycent):
    fig.text(24 / W, 1 - yc / H, t, rotation=90, ha='center', va='center', fontsize=14)
for xc in [335, 837]:
    fig.text(xc / W, 1 - 1498 / H, 'MC-Makrozyklus', ha='center', va='center', fontsize=14)

plt.savefig('out.png', dpi=100)
